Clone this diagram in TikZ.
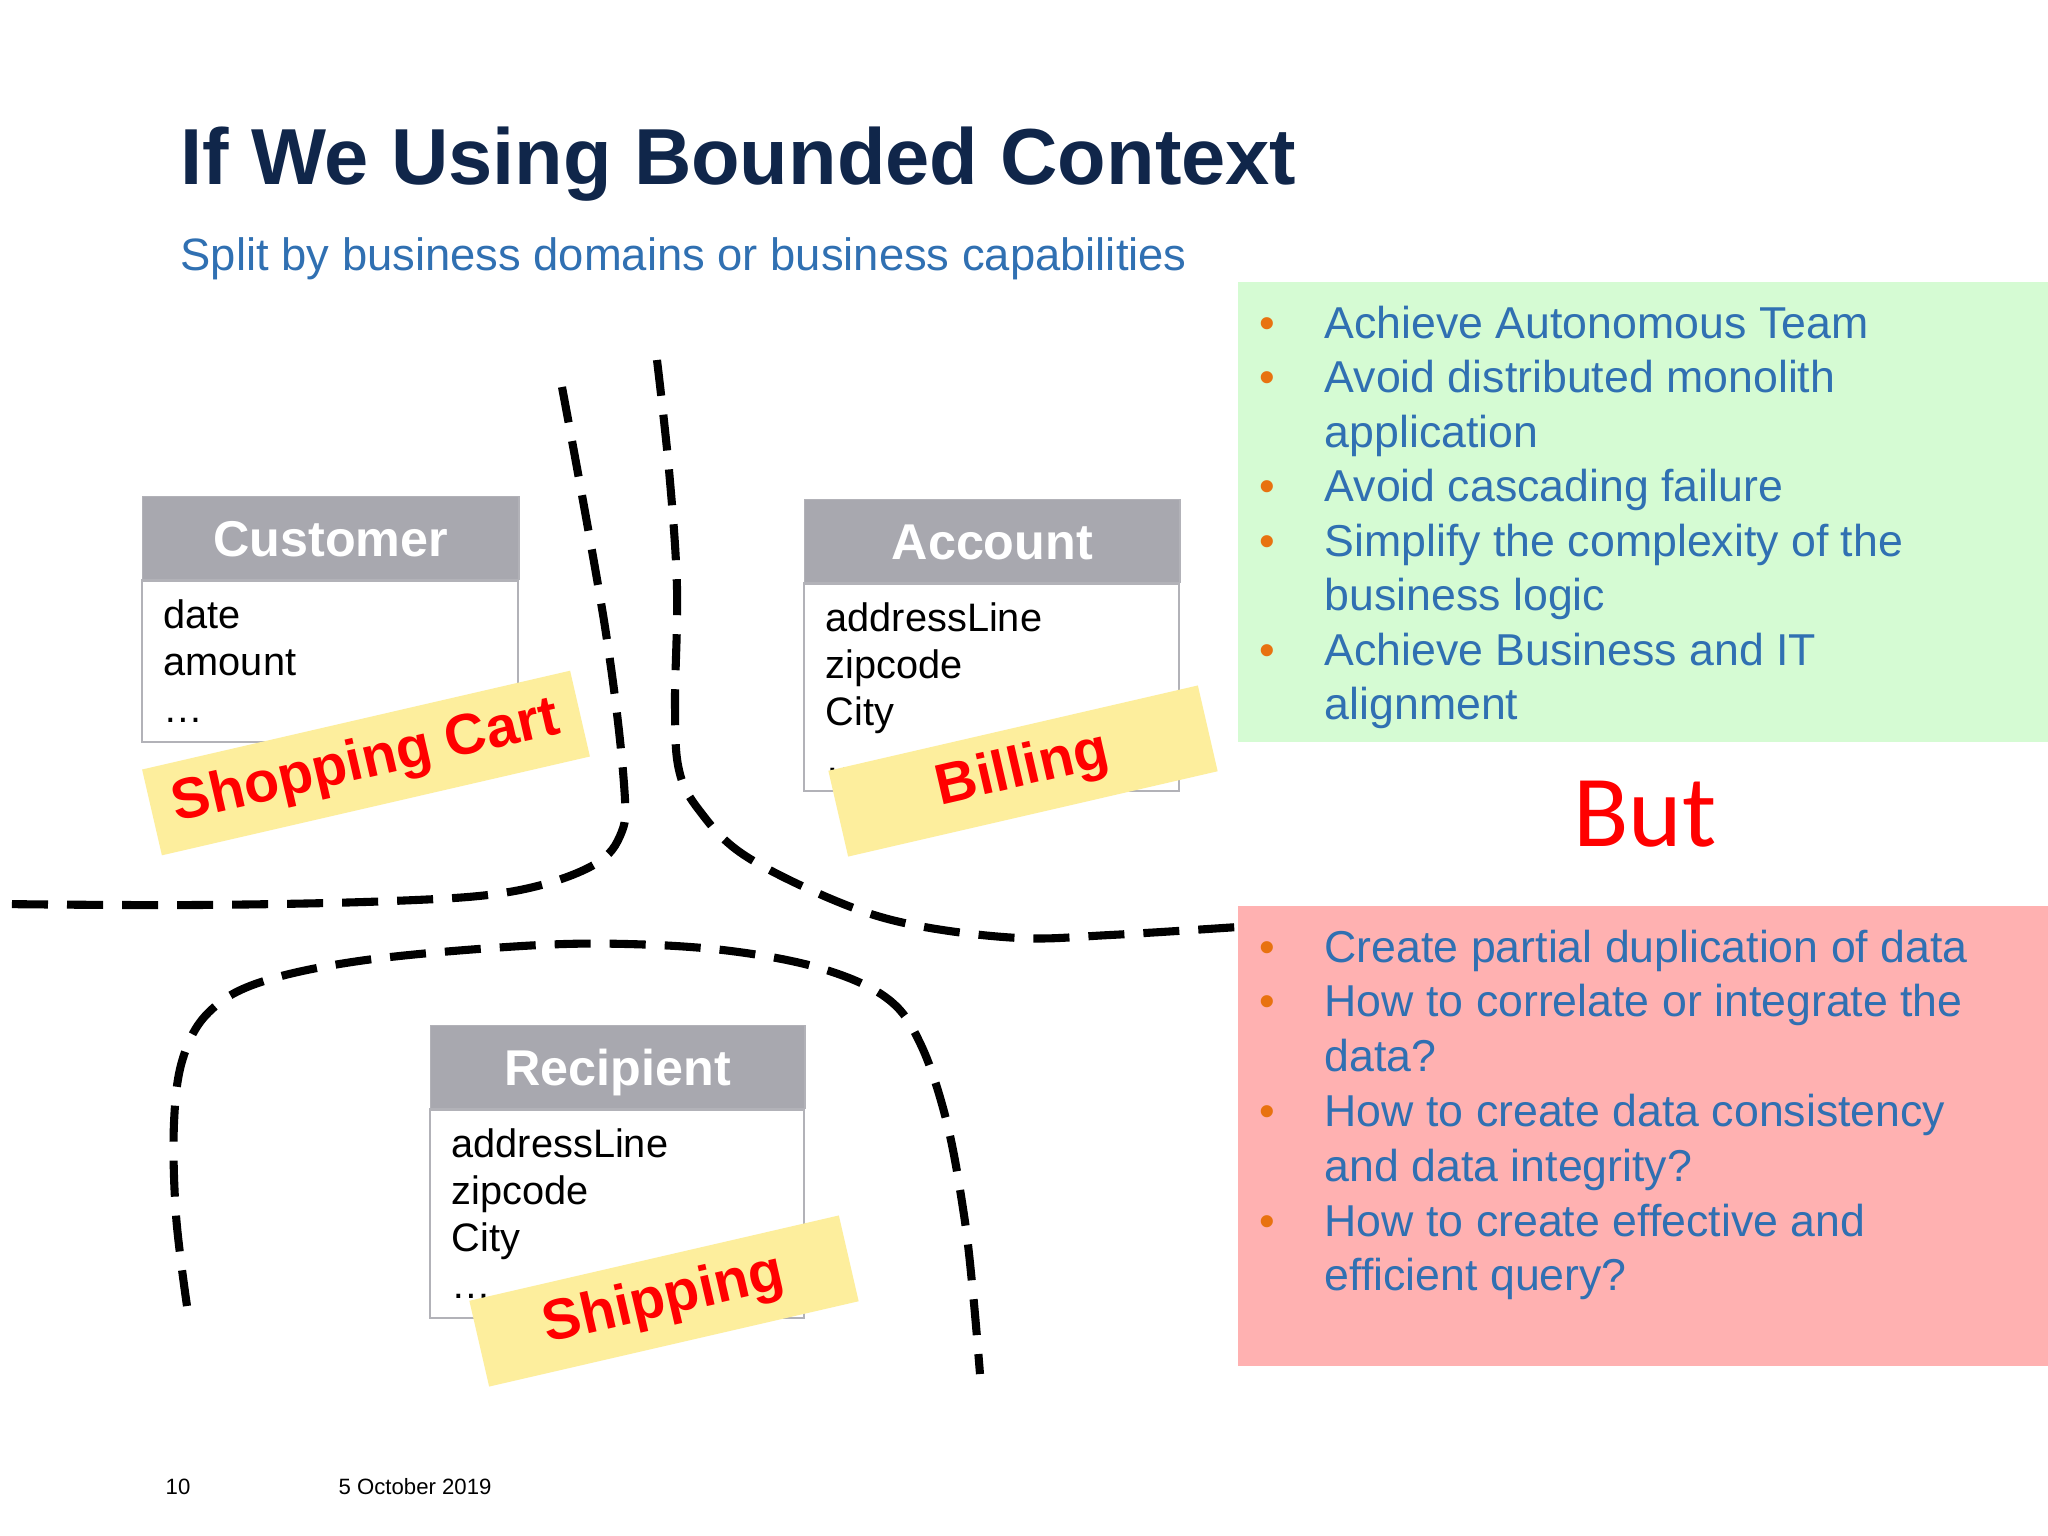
\documentclass[tikz,border=0pt]{standalone}
\usepackage{fontspec}
\setmainfont{Liberation Sans}
\newfontfamily\butfont{Carlito}
\definecolor{TitleNavy}{RGB}{16,38,74}
\definecolor{TextBlue}{RGB}{48,112,178}
\definecolor{BulletOrange}{RGB}{232,114,16}
\definecolor{GoodGreen}{RGB}{213,251,211}
\definecolor{BadPink}{RGB}{255,177,177}
\definecolor{NoteYellow}{RGB}{253,238,157}
\definecolor{HeadGrey}{RGB}{168,168,175}
\definecolor{LineGrey}{RGB}{178,178,184}
\definecolor{TagRed}{RGB}{255,0,0}

\tikzset{
  classhead/.style={anchor=north west,fill=HeadGrey,draw=LineGrey,text=white,
    font=\fontsize{14.3}{17}\selectfont\bfseries,minimum height=0.83cm,
    text height=10.2pt,text depth=0pt,inner sep=0pt},
  classbody/.style={draw=LineGrey,line width=0.8pt,fill=white},
  field/.style={anchor=base west,inner sep=0pt,font=\fontsize{11.3}{13}\selectfont},
  ctxlabel/.style={fill=NoteYellow,rotate=13,text=TagRed,
    font=\fontsize{16.3}{19}\selectfont\bfseries,minimum height=0.88cm,inner sep=0pt},
  bullettext/.style={anchor=base west,inner sep=0pt,text=TextBlue,
    font=\fontsize{12.7}{15}\selectfont},
  bulletdot/.style={anchor=base west,inner sep=0pt,text=BulletOrange,
    font=\fontsize{12.7}{15}\selectfont},
  boundary/.style={line width=2.3pt,dash pattern=on 0.36cm off 0.19cm},
}

\begin{document}
\begin{tikzpicture}[x=0.01cm,y=-0.01cm]
\useasboundingbox[fill=white] (0,0) rectangle (2048,1536);

% heading
\node[anchor=base west,inner sep=0pt,text=TitleNavy,
  font=\fontsize{22.6}{27}\selectfont\bfseries] (title) at (180,184)
  {If We Using Bounded Context};
\node[anchor=base west,inner sep=0pt,text=TextBlue,
  font=\fontsize{12.9}{15}\selectfont] (subtitle) at (180,270)
  {Split by business domains or business capabilities};

% context boundaries
\draw[boundary] plot[smooth,tension=0.6] coordinates {(562,387) (605,627)
  (624,784) (620,836) (588,868) (509,892) (392,901) (196,905) (0,904)};
\draw[boundary] plot[smooth,tension=0.6] coordinates {(657,360) (669,470)
  (677,588) (675,705) (679,770) (699,810) (744,855) (836,901) (914,925)
  (1019,938) (1110,935) (1238,927)};
\draw[boundary] plot[smooth,tension=0.6] coordinates {(187,1306) (176,1215)
  (174,1123) (183,1058) (209,1012) (261,982) (366,960) (522,946) (627,944)
  (731,951) (823,969) (888,999) (921,1045) (947,1123) (964,1215) (973,1293)
  (980,1374)};

% classes
\node[classhead,minimum width=3.76cm] (cust) at (142,496) {Customer};
\draw[classbody] (cust.south west) rectangle (518,742);
\foreach \f [count=\i] in {date,amount,…}
  \node[field] (cust-\i) at (163,{628+47*(\i-1)}) {\f};

\node[classhead,minimum width=3.75cm] (acct) at (804,499) {Account};
\draw[classbody] (acct.south west) rectangle (1179,791);
\foreach \f [count=\i] in {addressLine,zipcode,City,…}
  \node[field] (acct-\i) at (825,{631+47.3*(\i-1)}) {\f};

\node[classhead,minimum width=3.74cm] (recp) at (430,1025) {Recipient};
\draw[classbody] (recp.south west) rectangle (804,1318);
\foreach \f [count=\i] in {addressLine,zipcode,City,…}
  \node[field] (recp-\i) at (451,{1157+47.3*(\i-1)}) {\f};

% bounded context tags
\node[ctxlabel,minimum width=4.39cm] (cart) at (366,763) {Shopping Cart};
\node[ctxlabel,minimum width=3.79cm] (billing) at (1023,771) {Billing};
\node[ctxlabel,minimum width=3.79cm] (shipping) at (664,1301) {Shipping};

% pros and cons
\fill[GoodGreen] (1238,282) rectangle (2048,742);
\foreach \b/\t [count=\i] in {1/Achieve Autonomous Team,
    1/Avoid distributed monolith,0/application,1/Avoid cascading failure,
    1/Simplify the complexity of the,0/business logic,
    1/Achieve Business and IT,0/alignment}{
  \node[bullettext] (good-\i) at (1324,{338+54.5*(\i-1)}) {\t};
  \ifnum\b=1 \node[bulletdot] (gooddot-\i) at (1259,{338+54.5*(\i-1)}) {\textbullet};\fi
}

\node[anchor=base,inner sep=0pt,text=TagRed,
  font=\butfont\fontsize{29}{35}\selectfont] (but) at (1645,846) {But};

\fill[BadPink] (1238,906) rectangle (2048,1366);
\foreach \b/\t [count=\i] in {1/Create partial duplication of data,
    1/How to correlate or integrate the,0/data?,
    1/How to create data consistency,0/and data integrity?,
    1/How to create effective and,0/efficient query?}{
  \node[bullettext] (bad-\i) at (1324,{962+54.8*(\i-1)}) {\t};
  \ifnum\b=1 \node[bulletdot] (baddot-\i) at (1259,{962+54.8*(\i-1)}) {\textbullet};\fi
}

% footer
\node[anchor=base west,inner sep=0pt,font=\fontsize{6.3}{8}\selectfont] (page) at (165,1494) {10};
\node[anchor=base west,inner sep=0pt,font=\fontsize{6.3}{8}\selectfont] (date) at (338,1494) {5 October 2019};
\end{tikzpicture}
\end{document}
